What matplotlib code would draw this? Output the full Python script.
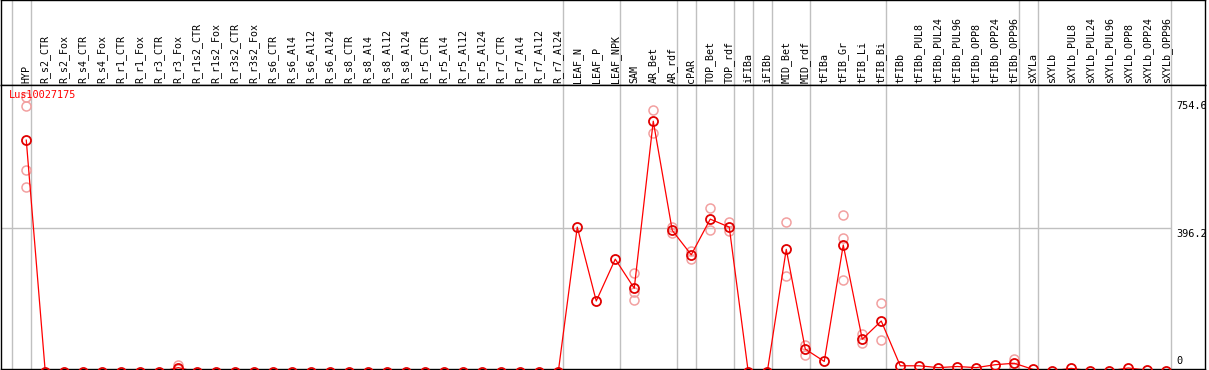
import matplotlib
matplotlib.use("Agg")
import matplotlib.pyplot as plt

plt.rcParams['font.family'] = ['DejaVu Sans Mono']

gene = "Lus10027175"

samples = ["HYP", "R_s2_CTR", "R_s2_Fox", "R_s4_CTR", "R_s4_Fox", "R_r1_CTR", "R_r1_Fox",
           "R_r3_CTR", "R_r3_Fox", "R_r1s2_CTR", "R_r1s2_Fox", "R_r3s2_CTR", "R_r3s2_Fox",
           "R_s6_CTR", "R_s6_Al4", "R_s6_Al12", "R_s6_Al24", "R_s8_CTR", "R_s8_Al4",
           "R_s8_Al12", "R_s8_Al24", "R_r5_CTR", "R_r5_Al4", "R_r5_Al12", "R_r5_Al24",
           "R_r7_CTR", "R_r7_Al4", "R_r7_Al12", "R_r7_Al24", "LEAF_N", "LEAF_P", "LEAF_NPK",
           "SAM", "AR_Bet", "AR_rdf", "cPAR", "TOP_Bet", "TOP_rdf", "iFIBa", "iFIBb",
           "MID_Bet", "MID_rdf", "tFIBa", "tFIB_Gr", "tFIB_Li", "tFIB_Bi", "tFIBb",
           "tFIBb_PUL8", "tFIBb_PUL24", "tFIBb_PUL96", "tFIBb_OPP8", "tFIBb_OPP24",
           "tFIBb_OPP96", "sXYLa", "sXYLb", "sXYLb_PUL8", "sXYLb_PUL24", "sXYLb_PUL96",
           "sXYLb_OPP8", "sXYLb_OPP24", "sXYLb_OPP96"]

means = [637, 0, 0, 0, 0, 0, 0, 0, 12, 0, 0, 0, 0,
         0, 0, 0, 0, 0, 0, 0, 0, 0, 0, 0, 0,
         0, 0, 0, 0, 398, 195, 310,
         230, 689, 389, 322, 420, 398, 0, 0,
         337, 63, 29, 349, 90, 140, 17,
         17, 12, 15, 12, 20,
         24, 7, 3, 10, 3, 3,
         11, 5, 3]

replicates = {
    "HYP": [754.6, 731, 555, 507],
    "R_r3_Fox": [18, 8],
    "SAM": [272, 221, 197],
    "AR_Bet": [719, 657],
    "AR_rdf": [398, 383],
    "cPAR": [333, 310],
    "TOP_Bet": [450, 390],
    "TOP_rdf": [413, 386],
    "MID_Bet": [412, 264],
    "MID_rdf": [74, 47],
    "tFIB_Gr": [430, 368, 252],
    "tFIB_Li": [103, 80],
    "tFIB_Bi": [189, 88],
    "tFIBb_OPP96": [35, 10],
}

# first sample of each tissue group
group_starts = ["HYP", "R_s2_CTR", "LEAF_N", "SAM", "cPAR", "TOP_Bet", "iFIBa", "iFIBb",
                "MID_Bet", "tFIBa", "tFIBb", "sXYLa", "sXYLb"]
y_ticks = [0, 396.2, 754.6]

x = list(range(len(samples)))
bounds = [samples.index(s) - 0.77 for s in group_starts] + [len(samples) - 0.77]
xlim = (-1.33, 62.04)
grid_c = "#c0c0c0"

fig = plt.figure(figsize=(12.09, 3.70), dpi=100)
W, H = 1209, 370
ax_lab = fig.add_axes([1 / W, 285 / H, 1204 / W, 85 / H])
ax = fig.add_axes([1 / W, 1 / H, 1204 / W, 284 / H])

for a in (ax_lab, ax):
    a.set_xlim(*xlim)
    a.set_xticks([])
    a.set_yticks([])
    for sp in a.spines.values():
        sp.set_linewidth(1.0)
        sp.set_color("black")
    for b in bounds:
        a.axvline(b, color=grid_c, lw=1, zorder=0)

ax_lab.set_ylim(0, 1)
for i, s in enumerate(samples):
    ax_lab.text(i, 0.025, s, rotation=90, ha="center", va="bottom", fontsize=7.2)

ax.set_ylim(8.2, 788.5)
ax.hlines(y_ticks[1], xlim[0], bounds[-1], color=grid_c, lw=1, zorder=0)

for name, vals in replicates.items():
    i = samples.index(name)
    ax.plot([i] * len(vals), vals, "o", ms=6.5, mfc="none", mec="#f2a0a0", mew=1.1, zorder=2)
ax.plot(x, means, "-", color="red", lw=0.9, zorder=3)
ax.plot(x, means, "o", ms=6.5, mfc="none", mec="#e00000", mew=1.3, zorder=4)

ax.annotate(gene, xy=(0, 1), xycoords="axes fraction", xytext=(8, -10), textcoords="offset pixels",
            color="red", fontsize=7.4, ha="left", va="center")

offsets = {0: (0, 3, "bottom"), 396.2: (0, -1, "top"), 754.6: (0, -4, "top")}
for t in y_ticks:
    dx, dy, va = offsets[t]
    yy = t if t > 0 else ax.get_ylim()[0]
    ax.annotate(f"{t:g}", xy=(bounds[-1], yy), xycoords="data", xytext=(6 + dx, dy),
                textcoords="offset pixels", fontsize=7.4, ha="left", va=va)

fig.savefig("out.png", dpi=100)
